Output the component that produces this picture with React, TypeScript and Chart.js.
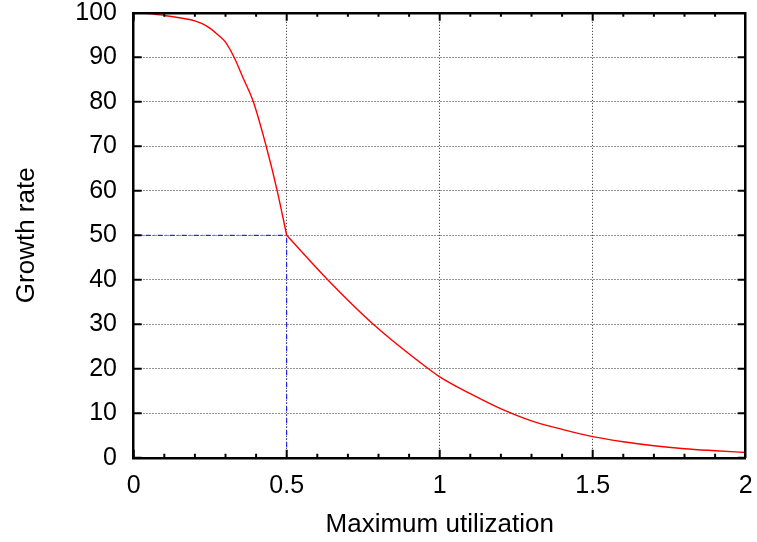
import React, { useEffect, useRef } from "react";
import { Chart, registerables } from "chart.js";

Chart.register(...registerables);

// Curve (x = maximum utilization, y = growth rate)
const utilization = [
  0, 0.05, 0.1, 0.15, 0.2, 0.222, 0.25, 0.273, 0.3, 0.328, 0.358, 0.391, 0.433, 0.469, 0.5,
  0.634, 0.783, 0.963, 1.0, 1.1, 1.197, 1.3, 1.4, 1.5, 1.6, 1.7, 1.8, 1.9, 2.0,
];
const growthRate = [
  100, 99.85, 99.4, 98.9, 98.2, 97.6, 96.5, 95.2, 93.4, 90, 85.3, 80, 70, 60, 50,
  40, 30, 20, 18.2, 14.4, 11.1, 8.3, 6.4, 4.75, 3.6, 2.7, 2.05, 1.6, 1.2,
];
const kinkUtilization = 0.5;
const kinkGrowth = 50;

const xTickValues = [0, 0.5, 1, 1.5, 2];
const xTickLabels = ["0", "0.5", "1", "1.5", "2"];
const yTickValues = [0, 10, 20, 30, 40, 50, 60, 70, 80, 90, 100];
const xMinorValues = [0.1, 0.2, 0.3, 0.4, 0.6, 0.7, 0.8, 0.9, 1.1, 1.2, 1.3, 1.4, 1.6, 1.7, 1.8, 1.9];

const X_MIN = 0;
const X_MAX = 2;
const Y_MIN = 0;
const Y_MAX = 100;

// plot-area size in pixels (used to turn tick-mark pixel lengths into data units)
const PLOT_W = 612;
const PLOT_H = 445;
const MAJOR_PX = 8;
const MINOR_PX = 4;

const FONT = "'Liberation Sans', Arial, Helvetica, sans-serif";
const GRID = "rgba(0,0,0,0.85)";
const FRAME = { display: true, color: "#000", width: 2.5, dash: [1, 2], z: 1 };

function fixBox(w: number | null, h: number | null) {
  return (s: any) => {
    if (w !== null) s.width = w;
    if (h !== null) s.height = h;
    s.paddingTop = 0;
    s.paddingBottom = 0;
    s.paddingLeft = 0;
    s.paddingRight = 0;
  };
}

function xTickMarks(values: number[], px: number) {
  const dy = (px * (Y_MAX - Y_MIN)) / PLOT_H;
  const out: any[] = [];
  values.forEach((v) => {
    out.push({ x: v, y: Y_MIN }, { x: v, y: Y_MIN + dy }, { x: v, y: null });
    out.push({ x: v, y: Y_MAX }, { x: v, y: Y_MAX - dy }, { x: v, y: null });
  });
  return out;
}

function yTickMarks(values: number[], px: number) {
  const dx = (px * (X_MAX - X_MIN)) / PLOT_W;
  const out: any[] = [];
  values.forEach((v) => {
    out.push({ x: X_MIN, y: v }, { x: X_MIN + dx, y: v }, { x: X_MIN + dx, y: null });
    out.push({ x: X_MAX, y: v }, { x: X_MAX - dx, y: v }, { x: X_MAX - dx, y: null });
  });
  return out;
}

const tickSet = (style: any) => ({
  borderColor: "#000",
  borderWidth: 2,
  pointRadius: 0,
  tension: 0,
  spanGaps: false,
  order: 0,
  ...style,
});

export default function App() {
  const ref = useRef<HTMLCanvasElement>(null);
  useEffect(() => {
    if (!ref.current) return;
    const pts = utilization.map((x, i) => ({ x, y: growthRate[i] }));
    const upper = pts.filter((p) => p.x <= kinkUtilization);
    const lower = pts.filter((p) => p.x >= kinkUtilization);
    const xTickSet = (s: any) => {
      s.ticks = xTickValues.map((v) => ({ value: v }));
    };
    const yTickSet = (s: any) => {
      s.ticks = yTickValues.map((v) => ({ value: v }));
    };
    const chart = new Chart(ref.current, {
      type: "line",
      data: {
        datasets: [
          {
            data: [
              { x: X_MIN, y: kinkGrowth },
              { x: kinkUtilization, y: kinkGrowth },
              { x: kinkUtilization, y: Y_MIN },
            ],
            borderColor: "#0000ff",
            borderWidth: 1,
            borderDash: [5, 3, 1, 3],
            pointRadius: 0,
            tension: 0,
            order: 2,
          },
          {
            data: upper,
            borderColor: "#ff0000",
            borderWidth: 1.4,
            pointRadius: 0,
            cubicInterpolationMode: "monotone",
            order: 1,
          },
          {
            data: lower,
            borderColor: "#ff0000",
            borderWidth: 1.4,
            pointRadius: 0,
            cubicInterpolationMode: "monotone",
            order: 1,
          },
          tickSet({ data: xTickMarks(xTickValues, MAJOR_PX) }),
          tickSet({ data: xTickMarks(xMinorValues, MINOR_PX) }),
          tickSet({ data: yTickMarks(yTickValues, MAJOR_PX) }),
        ],
      },
      options: {
        responsive: false,
        animation: false,
        events: [],
        layout: { padding: { left: 0, right: 11.3, top: 12.8, bottom: 0 } },
        plugins: { legend: { display: false }, tooltip: { enabled: false } },
        scales: {
          x: {
            type: "linear",
            position: "bottom",
            min: X_MIN,
            max: X_MAX,
            afterFit: fixBox(null, 84.2),
            afterBuildTicks: xTickSet,
            ticks: {
              autoSkip: false,
              maxRotation: 0,
              padding: 13.8,
              color: "#000",
              font: { family: FONT, size: 25 },
              callback: (v: any) => {
                const i = xTickValues.indexOf(Number(v));
                return i >= 0 ? xTickLabels[i] : "";
              },
            },
            grid: { color: GRID, lineWidth: 1, drawTicks: false },
            border: FRAME,
            title: {
              display: true,
              text: "Maximum utilization",
              color: "#000",
              font: { family: FONT, size: 26 },
              padding: { top: 0, bottom: 1.2 },
            },
          },
          xTop: {
            type: "linear",
            position: "top",
            min: X_MIN,
            max: X_MAX,
            afterFit: fixBox(null, 0),
            afterBuildTicks: xTickSet,
            ticks: { display: false },
            grid: { drawOnChartArea: false, drawTicks: false },
            border: FRAME,
          },
          y: {
            type: "linear",
            position: "left",
            min: Y_MIN,
            max: Y_MAX,
            afterFit: fixBox(133.7, null),
            afterBuildTicks: yTickSet,
            ticks: {
              padding: 16.7,
              color: "#000",
              font: { family: FONT, size: 25 },
            },
            grid: { color: GRID, lineWidth: 1, drawTicks: false },
            border: FRAME,
            title: {
              display: true,
              text: "Growth rate",
              color: "#000",
              font: { family: FONT, size: 26 },
              padding: { top: 11.7, bottom: 0 },
            },
          },
          yRight: {
            type: "linear",
            position: "right",
            min: Y_MIN,
            max: Y_MAX,
            afterFit: fixBox(0, null),
            afterBuildTicks: yTickSet,
            ticks: { display: false },
            grid: { drawOnChartArea: false, drawTicks: false },
            border: FRAME,
          },
        },
      } as any,
    });
    return () => chart.destroy();
  }, []);
  return (
    <div style={{ position: "fixed", left: 0, top: 0, width: 757, height: 542, background: "#fff" }}>
      <canvas ref={ref} width={757} height={542} style={{ display: "block" }} />
    </div>
  );
}
